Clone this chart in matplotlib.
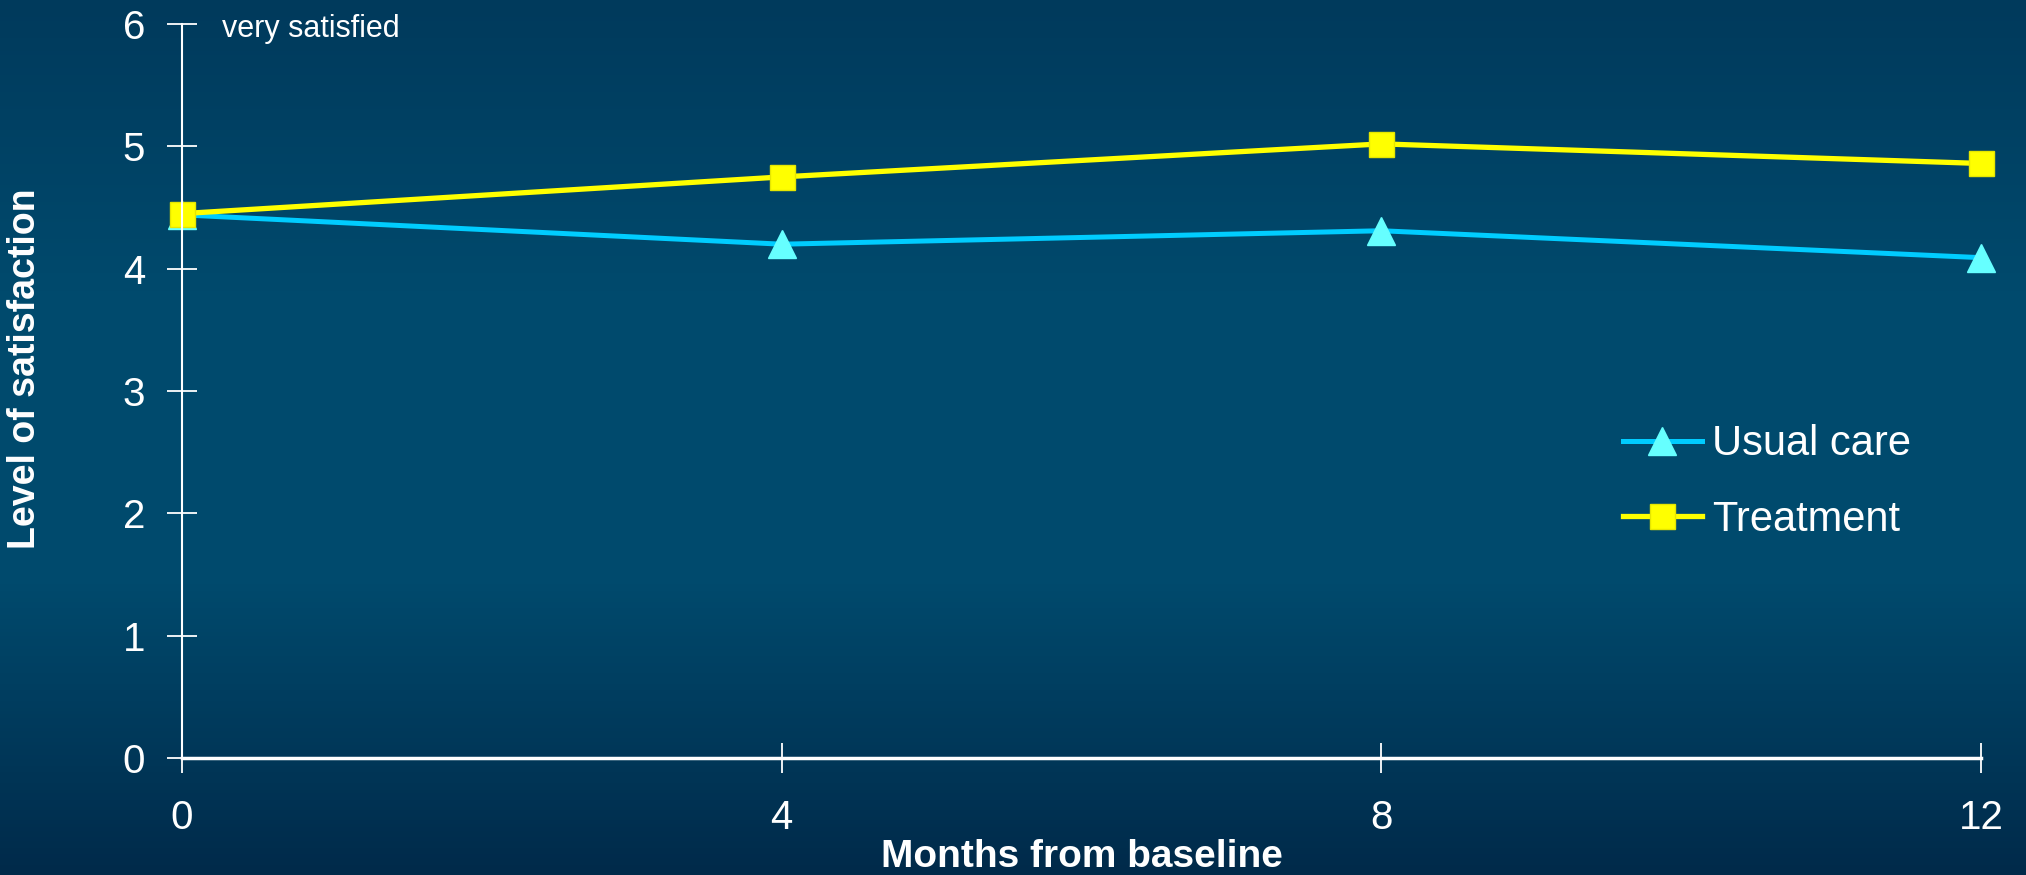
import matplotlib.pyplot as plt
import numpy as np
from matplotlib.colors import LinearSegmentedColormap

months = [0, 4, 8, 12]
usual_care = [4.44, 4.20, 4.31, 4.09]
treatment = [4.45, 4.75, 5.02, 4.86]
y_ticks = [0, 1, 2, 3, 4, 5, 6]

plt.rcParams['font.family'] = ['Liberation Sans', 'DejaVu Sans']

fig = plt.figure(figsize=(20.26, 8.75), dpi=100)

# background gradient: darker top and bottom, lighter middle
bg = fig.add_axes([0, 0, 1, 1], zorder=-10)
bg.axis('off')
cmap = LinearSegmentedColormap.from_list(
    'bg', ['#003a5c', '#004a6d', '#004a6d', '#002a4a'])
grad = np.linspace(0, 1, 256).reshape(-1, 1)
bg.imshow(grad, aspect='auto', cmap=cmap, extent=[0, 1, 0, 1])

ax = fig.add_axes([182 / 2026, 1 - 758 / 875, (1981 - 182) / 2026, (758 - 24) / 875])
ax.patch.set_alpha(0)

ax.plot(months, usual_care, color='#00ccff', lw=3.6, marker='^', ms=20,
        mfc='#66ffff', mec='#66ffff', label='Usual care', clip_on=False)
ax.plot(months, treatment, color='#ffff00', lw=3.8, marker='s', ms=18,
        mfc='#ffff00', mec='#e6e600', label='Treatment', clip_on=False)

ax.set_xlim(0, 12)
ax.set_ylim(0, 6)
ax.set_xticks(months)
ax.set_yticks(y_ticks)

for s in ['top', 'right']:
    ax.spines[s].set_visible(False)
ax.spines['left'].set_color('white')
ax.spines['left'].set_linewidth(1.5)
ax.spines['bottom'].set_color('white')
ax.spines['bottom'].set_linewidth(2.5)

ax.tick_params(axis='both', direction='inout', length=21, width=1.3,
               colors='white', labelsize=29)
ax.tick_params(axis='y', pad=16)
ax.tick_params(axis='x', pad=19)

ax.set_xlabel('Months from baseline', color='white', fontsize=28,
              fontweight='bold')
ax.xaxis.set_label_coords(0.5, -0.11)
ax.set_ylabel('Level of satisfaction', color='white', fontsize=27,
              fontweight='bold')
ax.yaxis.set_label_coords(-0.077, 0.531)

ax.text(0.27, 5.89, 'very satisfied', color='white', fontsize=22,
        va='baseline', ha='left')

leg = fig.legend(*ax.get_legend_handles_labels(), loc='center left',
                 bbox_to_anchor=((1602 - 17) / 2026, 1 - 482 / 875),
                 frameon=False, fontsize=30, handlelength=1.9,
                 labelspacing=0.85, handletextpad=0.25)
for t in leg.get_texts():
    t.set_color('white')

fig.savefig('out.png', dpi=100)
